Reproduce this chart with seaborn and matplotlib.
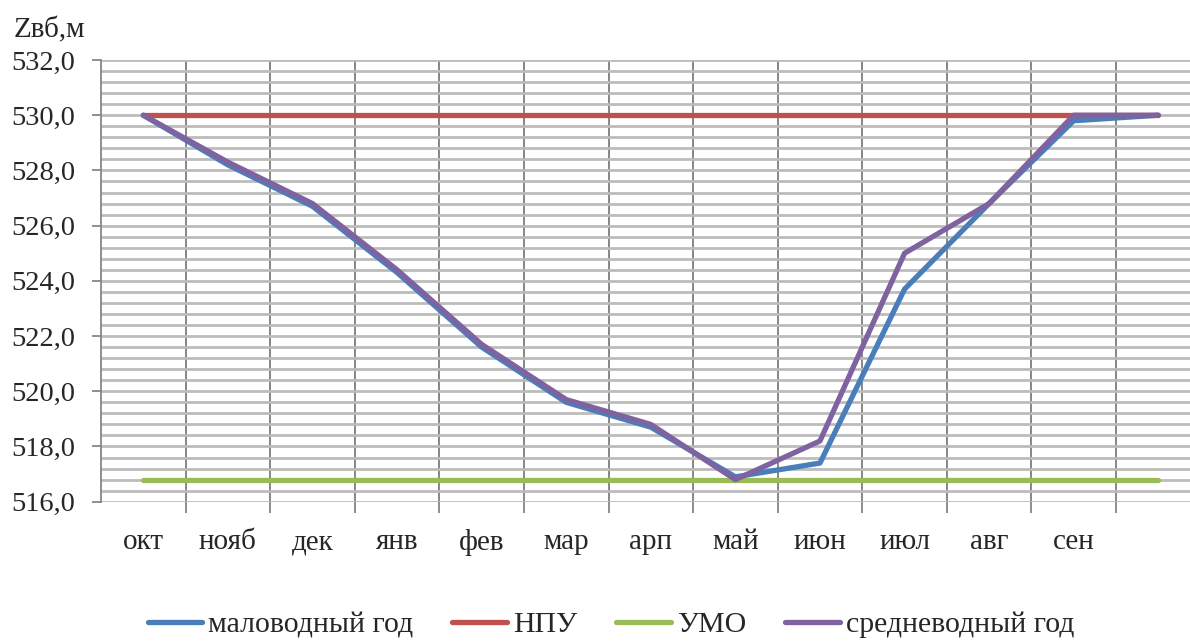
import numpy as np
import pandas as pd
import matplotlib
matplotlib.use("Agg")
import matplotlib.pyplot as plt
import seaborn as sns
from matplotlib.ticker import FixedLocator, FuncFormatter, MultipleLocator

# Month labels (the last point closes the water year and has no label)
months = ["окт", "нояб", "дек", "янв", "фев", "мар", "арп", "май", "июн", "июл", "авг", "сен", ""]

# Reservoir level, m
low_water = [530.0, 528.2, 526.7, 524.3, 521.6, 519.6, 518.7, 516.9, 517.4, 523.7, 526.8, 529.8, 530.0]
mid_water = [530.0, 528.3, 526.8, 524.4, 521.7, 519.7, 518.8, 516.8, 518.2, 525.0, 526.8, 530.0, 530.0]
npu = [530.0] * 13
umo = [516.8] * 13

series_names = ["маловодный год", "НПУ", "УМО", "средневодный год"]
series_values = [low_water, npu, umo, mid_water]
colors = ["#4A7EBB", "#C0504D", "#9BBB59", "#7F63A1"]

sns.set_style("white")
plt.rcParams["font.family"] = ["Liberation Serif", "DejaVu Serif"]

frames = []
for name, vals in zip(series_names, series_values):
    frames.append(pd.DataFrame({"x": np.arange(len(vals)), "level": vals, "series": name}))
df = pd.concat(frames, ignore_index=True)

fig = plt.figure(figsize=(11.9, 6.41), dpi=100)
ax = fig.add_axes([0.0849, 0.2173, 0.924, 0.6891])

sns.lineplot(data=df, x="x", y="level", hue="series", hue_order=series_names,
             palette=colors, linewidth=3.8, ax=ax, legend=True,
             solid_capstyle="round", solid_joinstyle="round")

ax.set_xlim(-0.5, 12.5)
ax.set_ylim(516, 532)

# Labels at category centres, ticks and grid at category boundaries
ax.xaxis.set_major_locator(FixedLocator(np.arange(13)))
ax.set_xticklabels(months)
ax.xaxis.set_minor_locator(FixedLocator(np.arange(13) + 0.5))
ax.tick_params(axis="x", which="major", length=0, pad=20, labelsize=21)
ax.tick_params(axis="x", which="minor", length=8, width=1.3, color="#868686", direction="out", bottom=True)

ax.yaxis.set_major_locator(MultipleLocator(2))
ax.yaxis.set_minor_locator(MultipleLocator(0.4))
ax.yaxis.set_major_formatter(FuncFormatter(lambda v, p: f"{v:.1f}".replace(".", ",")))
ax.tick_params(axis="y", which="major", length=6.5, width=1.3, color="#868686", direction="out", left=True, labelsize=20.5, pad=12)
ax.tick_params(axis="y", which="minor", length=0)

ax.grid(axis="y", which="both", color="#BCBCBC", linewidth=2.0, zorder=0)
ax.grid(axis="x", which="minor", color="#868686", linewidth=1.4, zorder=0)
ax.grid(axis="x", which="major", visible=False)
ax.set_axisbelow(True)

for side in ["top", "right", "bottom"]:
    ax.spines[side].set_visible(False)
ax.spines["left"].set_color("#868686")
ax.spines["left"].set_linewidth(1.3)

ax.set_xlabel("")
ax.set_ylabel("")
fig.text(14 / 1190, 1 - 30 / 641, "Zвб,м", fontsize=21, va="center", ha="left")

handles, labels = ax.get_legend_handles_labels()
ax.legend(handles, labels, loc="center", bbox_to_anchor=(611 / 1190, 1 - 625 / 641),
          bbox_transform=fig.transFigure, ncol=4, frameon=False, fontsize=21.5,
          handlelength=1.84, handletextpad=0.2, columnspacing=1.3)

fig.savefig("out.png", dpi=100)
